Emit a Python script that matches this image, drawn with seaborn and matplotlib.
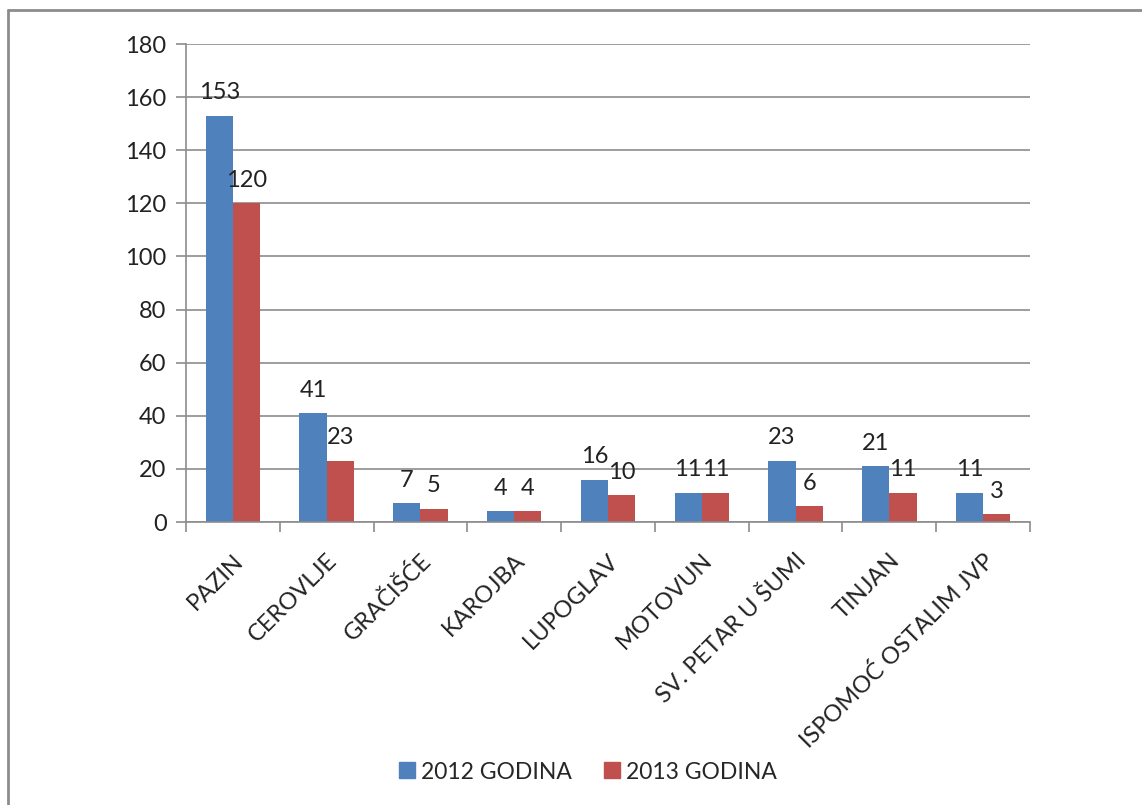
import matplotlib
matplotlib.use("Agg")
import matplotlib.pyplot as plt
import seaborn as sns
import pandas as pd
from matplotlib.lines import Line2D

categories = ["PAZIN", "CEROVLJE", "GRAČIŠĆE", "KAROJBA", "LUPOGLAV", "MOTOVUN",
              "SV. PETAR U ŠUMI", "TINJAN", "ISPOMOĆ OSTALIM JVP"]
series_names = ["2012 GODINA", "2013 GODINA"]
values_2012 = [153, 41, 7, 4, 16, 11, 23, 21, 11]
values_2013 = [120, 23, 5, 4, 10, 11, 6, 11, 3]
y_ticks = [0, 20, 40, 60, 80, 100, 120, 140, 160, 180]
colors = ["#4F81BD", "#C0504D"]

df = pd.DataFrame({
    "category": categories * 2,
    "series": [series_names[0]] * len(categories) + [series_names[1]] * len(categories),
    "value": values_2012 + values_2013,
})

sns.set_theme(style="white")
plt.rcParams['font.family'] = ['Lato', 'DejaVu Sans']
FS = 17

fig = plt.figure(figsize=(11.42, 8.05), dpi=100)
ax = fig.add_axes([186/1142, 1-522/805, (1030-186)/1142, (522-44)/805])

sns.barplot(data=df, x="category", y="value", hue="series", palette=colors,
            width=0.58, gap=0, ax=ax, saturation=1, legend=False, linewidth=0)

ax.set_ylim(0, 180)
ax.set_xlim(-0.5, len(categories) - 0.5)
ax.set_yticks(y_ticks)
ax.set_yticklabels([str(t) for t in y_ticks], fontsize=FS, color="#222222")
ax.yaxis.grid(True, color="#8c8c8c", linewidth=1.2)
ax.set_axisbelow(True)
ax.set_xlabel("")
ax.set_ylabel("")

for s in ["top", "right"]:
    ax.spines[s].set_visible(False)
for s in ["left", "bottom"]:
    ax.spines[s].set_color("#8c8c8c")
    ax.spines[s].set_linewidth(1.2)

ax.tick_params(axis="y", length=7, width=1.2, color="#8c8c8c", pad=7, left=True)
ax.set_xticks([i - 0.5 for i in range(len(categories) + 1)], minor=False)
ax.set_xticklabels([""] * (len(categories) + 1))
ax.tick_params(axis="x", length=7, width=1.2, color="#8c8c8c", bottom=True)
ax.set_xticks(range(len(categories)), minor=True)
ax.set_xticklabels(categories, minor=True, rotation=45, ha="right",
                   rotation_mode="anchor", fontsize=FS, color="#222222")
ax.tick_params(axis="x", which="minor", length=0, pad=20)

for cont in ax.containers:
    ax.bar_label(cont, fmt="%d", padding=9, fontsize=FS, color="#222222")

handles = [Line2D([0], [0], marker="s", color="none", markerfacecolor=c,
                  markeredgecolor=c, markersize=12) for c in colors]
fig.legend(handles, series_names, loc="center", bbox_to_anchor=(588/1142, 1-772/805),
           ncol=2, frameon=False, fontsize=16.5, handlelength=0.7, handletextpad=0.25,
           columnspacing=1.4)

fig.add_artist(Line2D([8/1142, 8/1142], [0, 1-10/805], transform=fig.transFigure,
                      color="#8c8c8c", linewidth=2))
fig.add_artist(Line2D([8/1142, 1], [1-10/805, 1-10/805], transform=fig.transFigure,
                      color="#8c8c8c", linewidth=2))

fig.savefig("out.png", dpi=100)
